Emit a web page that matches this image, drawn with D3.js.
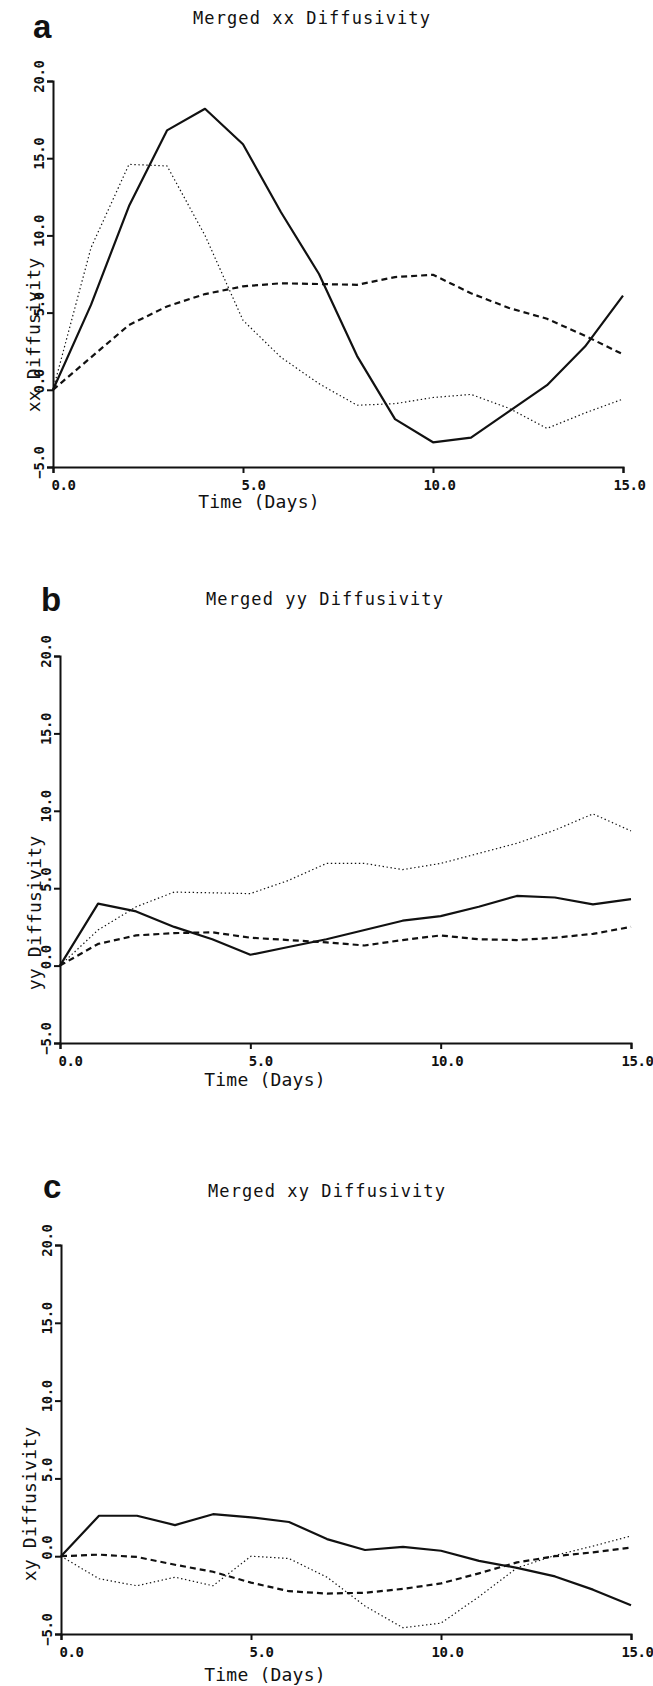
<!DOCTYPE html>
<html>
<head>
<meta charset="utf-8">
<script src="https://d3js.org/d3.v7.min.js"></script>
<style>
    body { margin: 0; background: #fff; }
    svg text { font-family: "DejaVu Sans Mono", monospace; fill: #111; }
</style>
</head>
<body>
<script>
"use strict";

// time axis, days 0..15
let days = d3.range(0, 16);
let xTicks = [0, 5, 10, 15];
let yTicks = [-5, 0, 5, 10, 15, 20];

// xx diffusivity (panel a)
let xxSolid  = [0, 5.5, 11.9, 16.8, 18.2, 15.9, 11.5, 7.5, 2.2, -1.9, -3.4, -3.1, -1.4, 0.3, 2.8, 6.1];
let xxDashed = [0, 2.1, 4.2, 5.4, 6.2, 6.7, 6.9, 6.85, 6.8, 7.3, 7.45, 6.25, 5.3, 4.6, 3.5, 2.3];
let xxDotted = [0, 9.2, 14.6, 14.5, 10.0, 4.5, 2.1, 0.4, -1.0, -0.9, -0.5, -0.3, -1.2, -2.5, -1.5, -0.6];

// yy diffusivity (panel b)
let yySolid  = [0, 4.0, 3.5, 2.5, 1.7, 0.7, 1.2, 1.7, 2.3, 2.9, 3.2, 3.8, 4.5, 4.4, 3.95, 4.3];
let yyDashed = [0, 1.4, 1.95, 2.1, 2.15, 1.8, 1.65, 1.5, 1.3, 1.65, 1.95, 1.7, 1.65, 1.8, 2.05, 2.5];
let yyDotted = [0, 2.3, 3.8, 4.75, 4.7, 4.65, 5.5, 6.6, 6.6, 6.2, 6.6, 7.25, 7.9, 8.75, 9.8, 8.7];

// xy diffusivity (panel c)
let xySolid  = [0, 2.6, 2.6, 2.0, 2.7, 2.5, 2.2, 1.1, 0.4, 0.6, 0.35, -0.3, -0.75, -1.3, -2.15, -3.15];
let xyDashed = [0, 0.1, -0.05, -0.55, -1.0, -1.7, -2.25, -2.4, -2.35, -2.1, -1.75, -1.1, -0.4, 0.0, 0.25, 0.55];
let xyDotted = [0, -1.45, -1.9, -1.35, -1.9, 0.0, -0.15, -1.35, -3.2, -4.6, -4.3, -2.6, -0.75, 0.05, 0.65, 1.3];

let lineStyles = {
    solid:  {width: 2.2, dash: null},
    dashed: {width: 2.2, dash: "6,4"},
    dotted: {width: 1.2, dash: "1.4,2.6"}
};

let panels = [
    {letter: "a", title: "Merged xx Diffusivity", yLabel: "xx Diffusivity",
        series: {solid: xxSolid, dashed: xxDashed, dotted: xxDotted},
        left: 53, right: 623, top: 81, bottom: 467,
        titleX: 312, titleY: 24, letterX: 33, letterY: 38,
        xLabelX: 259, xLabelY: 508, yLabelX: 40, yLabelY: 335},
    {letter: "b", title: "Merged yy Diffusivity", yLabel: "yy Diffusivity",
        series: {solid: yySolid, dashed: yyDashed, dotted: yyDotted},
        left: 60, right: 631, top: 656, bottom: 1043,
        titleX: 325, titleY: 605, letterX: 41, letterY: 611,
        xLabelX: 265, xLabelY: 1086, yLabelX: 41, yLabelY: 913},
    {letter: "c", title: "Merged xy Diffusivity", yLabel: "xy Diffusivity",
        series: {solid: xySolid, dashed: xyDashed, dotted: xyDotted},
        left: 61, right: 631, top: 1245, bottom: 1634,
        titleX: 327, titleY: 1197, letterX: 43, letterY: 1198,
        xLabelX: 265, xLabelY: 1681, yLabelX: 36, yLabelY: 1504}
];

let svg = d3.select("body").append("svg")
    .attr("width", 653)
    .attr("height", 1686);

function drawPanel(p) {
    let g = svg.append("g").attr("class", "panel");

    let x = d3.scaleLinear().domain([0, 15]).range([p.left, p.right]);
    let y = d3.scaleLinear().domain([-5, 20]).range([p.bottom, p.top]);

    // x axis - labels sit right of the tick like the old plotter output
    let xg = g.append("g")
        .attr("transform", "translate(0," + p.bottom + ")")
        .call(d3.axisBottom(x).tickValues(xTicks).tickSize(6).tickFormat(d3.format(".1f")));
    xg.selectAll("text")
        .attr("x", 22).attr("y", 23).attr("dy", null)
        .attr("text-anchor", "end")
        .style("font-size", "14px").style("font-weight", "bold")
        .style("letter-spacing", "-0.4px");

    // y axis - labels rotated
    let yg = g.append("g")
        .attr("transform", "translate(" + p.left + ",0)")
        .call(d3.axisLeft(y).tickValues(yTicks).tickSize(6).tickFormat(d3.format(".1f")));
    yg.selectAll("text")
        .attr("x", 21).attr("y", 0).attr("dy", null)
        .attr("transform", "translate(-9,0) rotate(-90)")
        .attr("text-anchor", "end")
        .style("font-size", "14px").style("font-weight", "bold")
        .style("letter-spacing", "-0.4px");

    g.selectAll(".domain, .tick line")
        .attr("stroke", "#111")
        .attr("stroke-width", 2);

    // the three curves
    let line = d3.line()
        .x(function (d, i) { return x(days[i]); })
        .y(function (d) { return y(d); });

    Object.keys(p.series).forEach(function (key) {
        let st = lineStyles[key];
        g.append("path")
            .datum(p.series[key])
            .attr("fill", "none")
            .attr("stroke", "#111")
            .attr("stroke-width", st.width)
            .attr("stroke-dasharray", st.dash)
            .attr("stroke-linejoin", "round")
            .attr("d", line);
    });

    // labels
    g.append("text")
        .attr("x", p.titleX).attr("y", p.titleY)
        .attr("text-anchor", "middle")
        .style("font-size", "17px").style("letter-spacing", "1.1px")
        .text(p.title);

    g.append("text")
        .attr("x", p.letterX).attr("y", p.letterY)
        .style("font-family", "'Liberation Sans', Arial, sans-serif")
        .style("font-weight", "bold").style("font-size", "33px")
        .text(p.letter);

    g.append("text")
        .attr("x", p.xLabelX).attr("y", p.xLabelY)
        .attr("text-anchor", "middle")
        .style("font-size", "18px").style("letter-spacing", "0.2px")
        .text("Time (Days)");

    g.append("text")
        .attr("transform", "translate(" + p.yLabelX + "," + p.yLabelY + ") rotate(-90)")
        .attr("text-anchor", "middle")
        .style("font-size", "18px").style("letter-spacing", "0.2px")
        .text(p.yLabel);
}

panels.forEach(drawPanel);
</script>
</body>
</html>
